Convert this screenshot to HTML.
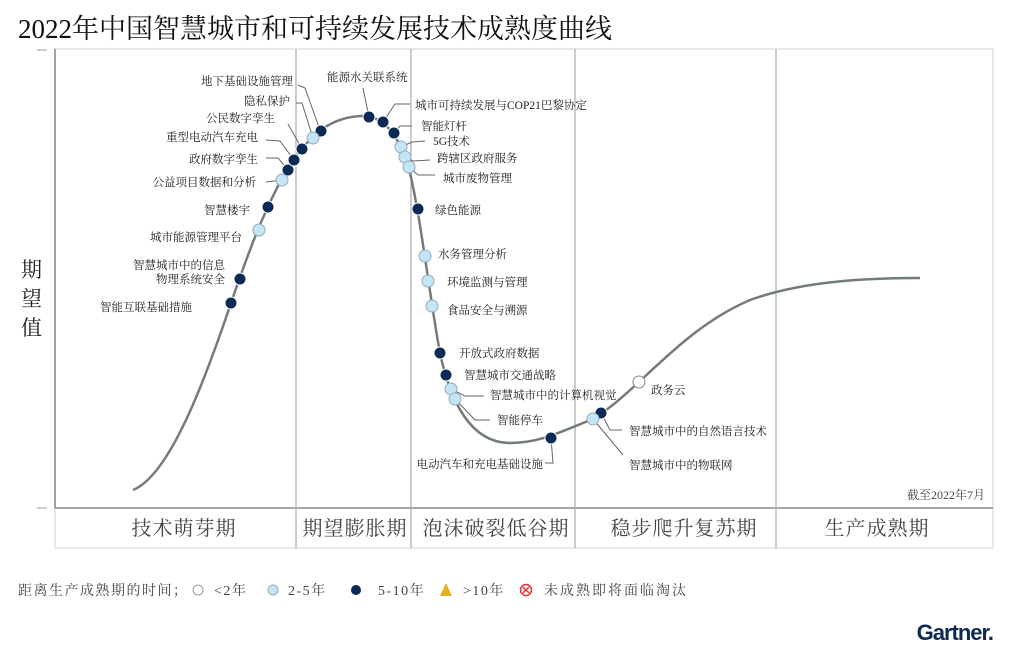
<!DOCTYPE html>
<html><head><meta charset="utf-8"><style>
body{margin:0;background:#fff;}
svg text{font-family:"Liberation Serif","Noto Serif CJK SC",serif;}
</style></head><body>
<svg width="1018" height="660" xmlns="http://www.w3.org/2000/svg">
<text x="18" y="38" font-size="27" fill="#111">2022年中国智慧城市和可持续发展技术成熟度曲线</text>
<!-- frame -->
<rect x="55" y="49" width="938" height="499" fill="none" stroke="#e0e0e0" stroke-width="1.5"/>
<line x1="55" y1="49" x2="55" y2="508" stroke="#888" stroke-width="1.5"/>
<line x1="55" y1="508" x2="993" y2="508" stroke="#888" stroke-width="1.5"/>
<line x1="37" y1="50" x2="47" y2="50" stroke="#999"/>
<line x1="37" y1="508" x2="47" y2="508" stroke="#999"/>
<g stroke="#aaa" stroke-width="1.2">
<line x1="296" y1="49" x2="296" y2="548"/><line x1="411" y1="49" x2="411" y2="548"/>
<line x1="575" y1="49" x2="575" y2="548"/><line x1="776" y1="49" x2="776" y2="548"/>
</g>
<g font-size="21" fill="#222"><text x="21" y="277">期</text><text x="21" y="306">望</text><text x="21" y="335">值</text></g>
<g font-size="20" fill="#444" text-anchor="middle" letter-spacing="1">
<text x="184" y="535">技术萌芽期</text><text x="355" y="535">期望膨胀期</text><text x="496" y="535">泡沫破裂低谷期</text><text x="684" y="535">稳步爬升复苏期</text><text x="877" y="535">生产成熟期</text>
</g>
<text x="985" y="499" font-size="12" fill="#444" text-anchor="end">截至2022年7月</text>
<path d="M133,490 C170,475 205,380 231,303 C245,262 265,205 290,165 C310,135 330,117 362,116 C385,115 400,140 408,165 C420,210 430,300 440,353 C450,400 470,443 510,443 C540,443 560,432 593,419 C640,390 680,330 750,300 C800,282 860,278 920,278" fill="none" stroke="#737b7b" stroke-width="2.5"/>
<!-- leaders -->
<g stroke="#666" fill="none" stroke-width="1">
<polyline points="298,85 305,88 320,130"/>
<polyline points="296,103 302,103 313,138"/>
<polyline points="288,124 302,149"/>
<polyline points="266,140 280,141 294,160"/>
<polyline points="266,158 278,158 288,170"/>
<polyline points="266,182 282,180"/>
<polyline points="363,88 369,117"/>
<polyline points="383,122 395,104 410,104"/>
<polyline points="394,133 400,126 412,126"/>
<polyline points="401,147 412,142 425,141"/>
<polyline points="405,157 413,161 430,160"/>
<polyline points="409,167 418,175 435,175"/>
<polyline points="451,389 465,396 484,396"/>
<polyline points="455,399 475,420 490,420"/>
<polyline points="551,438 553,463 545,463"/>
<polyline points="601,413 610,430 622,430"/>
<polyline points="593,419 623,455"/>
</g>
<!-- labels -->
<g font-size="11.5" fill="#222">
<g text-anchor="end">
<text x="293" y="85">地下基础设施管理</text>
<text x="290" y="105">隐私保护</text>
<text x="275" y="122">公民数字孪生</text>
<text x="258" y="141">重型电动汽车充电</text>
<text x="258" y="163">政府数字孪生</text>
<text x="256" y="186">公益项目数据和分析</text>
<text x="250" y="214">智慧楼宇</text>
<text x="242" y="241">城市能源管理平台</text>
<text x="225" y="269">智慧城市中的信息</text>
<text x="225" y="283">物理系统安全</text>
<text x="192" y="311">智能互联基础措施</text>
<text x="543" y="468">电动汽车和充电基础设施</text>
</g>
<text x="327" y="81">能源水关联系统</text>
<text x="415" y="109">城市可持续发展与COP21巴黎协定</text>
<text x="421" y="130">智能灯杆</text>
<text x="433" y="145">5G技术</text>
<text x="437" y="162">跨辖区政府服务</text>
<text x="443" y="182">城市废物管理</text>
<text x="435" y="214">绿色能源</text>
<text x="438" y="258">水务管理分析</text>
<text x="447" y="286">环境监测与管理</text>
<text x="447" y="314">食品安全与溯源</text>
<text x="459" y="357">开放式政府数据</text>
<text x="464" y="379">智慧城市交通战略</text>
<text x="490" y="399">智慧城市中的计算机视觉</text>
<text x="497" y="424">智能停车</text>
<text x="651" y="394">政务云</text>
<text x="629" y="435">智慧城市中的自然语言技术</text>
<text x="629" y="469">智慧城市中的物联网</text>
</g>
<!-- dots -->
<g stroke="#fff" stroke-width="1" fill="#0b2a55">
<circle cx="231" cy="303" r="6"/><circle cx="240" cy="279" r="6"/><circle cx="268" cy="207" r="6"/>
<circle cx="288" cy="170" r="6"/><circle cx="294" cy="160" r="6"/><circle cx="302" cy="149" r="6"/>
<circle cx="321" cy="131" r="6"/><circle cx="369" cy="117" r="6"/><circle cx="383" cy="122" r="6"/>
<circle cx="394" cy="133" r="6"/><circle cx="418" cy="209" r="6"/><circle cx="440" cy="353" r="6"/>
<circle cx="446" cy="375" r="6"/><circle cx="551" cy="438" r="6"/><circle cx="601" cy="413" r="6"/>
</g>
<g stroke="#9ab" stroke-width="1" fill="#c2e6f5">
<circle cx="259" cy="230" r="6"/><circle cx="282" cy="180" r="6"/><circle cx="313" cy="138" r="6"/>
<circle cx="401" cy="147" r="6"/><circle cx="405" cy="157" r="6"/><circle cx="409" cy="167" r="6"/>
<circle cx="425" cy="256" r="6"/><circle cx="428" cy="281" r="6"/><circle cx="432" cy="306" r="6"/>
<circle cx="451" cy="389" r="6"/><circle cx="455" cy="399" r="6"/><circle cx="593" cy="419" r="6"/>
</g>
<circle cx="639" cy="382" r="6" fill="#fff" stroke="#888"/>
<!-- legend -->
<g font-size="14" fill="#444" letter-spacing="1.5">
<text x="18" y="595">距离生产成熟期的时间；</text>
<circle cx="198" cy="590" r="5" fill="#fff" stroke="#999"/>
<text x="214" y="595">&lt;2年</text>
<circle cx="273" cy="590" r="5" fill="#c2e6f5" stroke="#9ab"/>
<text x="288" y="595">2-5年</text>
<circle cx="356" cy="590" r="5" fill="#0b2a55"/>
<text x="378" y="595">5-10年</text>
<polygon points="446,583 452,596 440,596" fill="#e8b020"/>
<text x="463" y="595">&gt;10年</text>
<circle cx="526" cy="590" r="5.5" fill="#fff" stroke="#e03030" stroke-width="1.5"/>
<path d="M523,587 L529,593 M529,587 L523,593" stroke="#e03030" stroke-width="1.5"/>
<text x="544" y="595" letter-spacing="2">未成熟即将面临淘汰</text>
</g>
<text x="993" y="640" font-size="22" font-weight="bold" fill="#0b2a55" text-anchor="end" letter-spacing="-1" style="font-family:'Liberation Sans',sans-serif">Gartner.</text>
</svg>
</body></html>
